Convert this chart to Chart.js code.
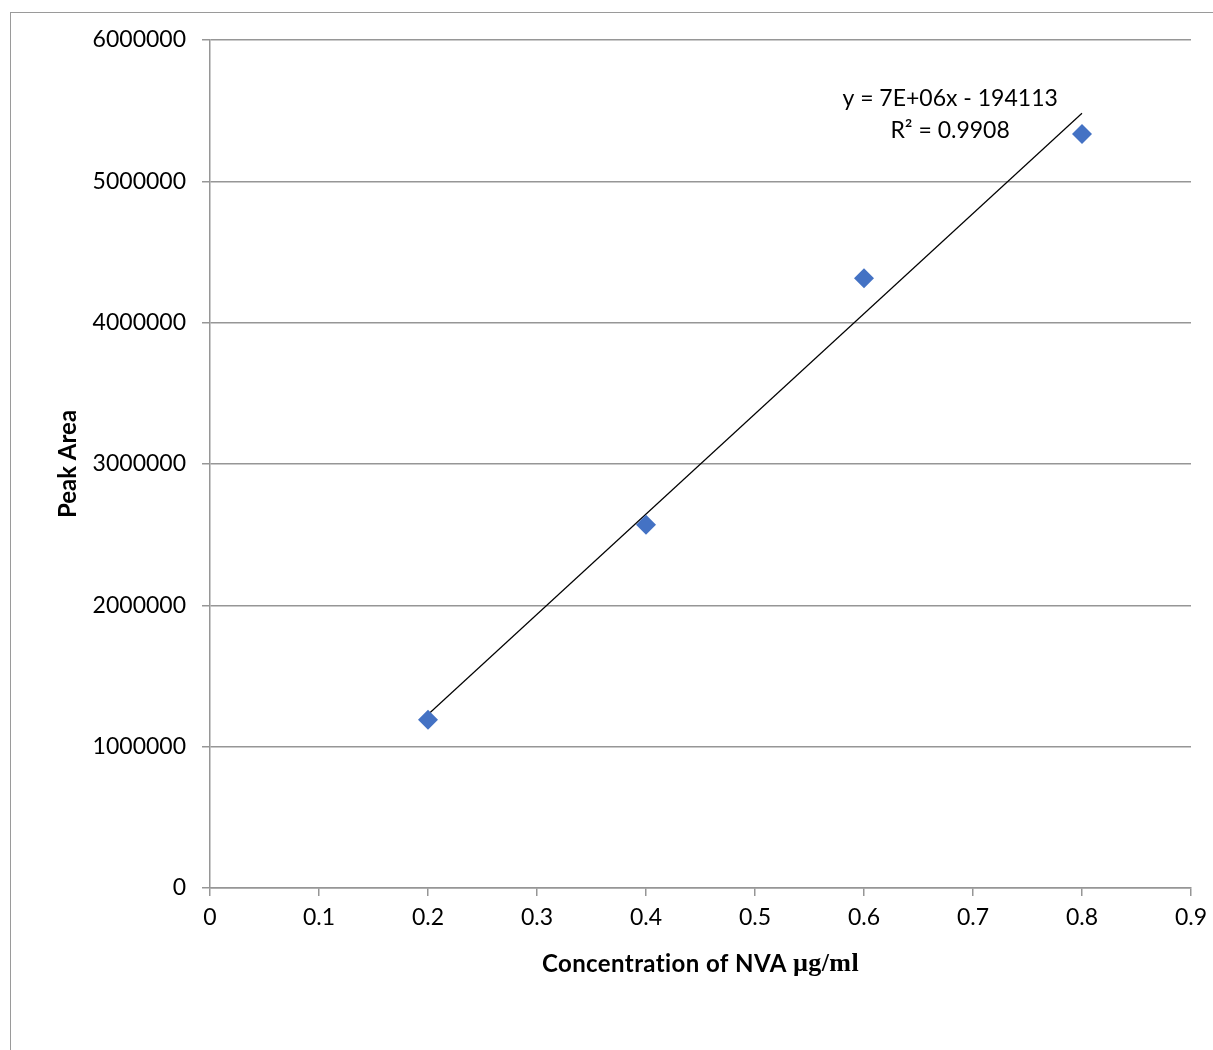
<!DOCTYPE html>
<html>
<head>
<meta charset="utf-8">
<script src="https://cdn.jsdelivr.net/npm/chart.js@4.4.0/dist/chart.umd.min.js"></script>
<style>
  html, body { margin: 0; padding: 0; background: #fff; }
  #wrap { position: relative; width: 1213px; height: 1050px; overflow: hidden; }
  #frame { position: absolute; left: 10px; top: 12px; width: 1400px; height: 1200px; border: 1.5px solid #9a9a9a; }
  #Chart { position: absolute; left: 0; top: 0; }
</style>
</head>
<body>
<div id="wrap">
  <div id="frame"></div>
  <canvas id="Chart" width="1213" height="1050"></canvas>
</div>
<script>
// 浓度 (µg/ml) 和峰面积
const concentrations = [0.2, 0.4, 0.6, 0.8];
const peakAreas = [1190000, 2570000, 4315000, 5335000];

// 趋势线两个端点
const trendX = [0.2, 0.8];
const trendY = [1228000, 5482000];

// 文字
const yTitle = 'Peak Area';
const xTitleParts = ['Concentration of NVA ', 'µg/ml'];
const equationLines = ['y = 7E+06x - 194113', 'R² = 0.9908'];

const gridColor = '#969696';
const tickFont = { family: 'Lato', size: 23 };

// x轴标题：前半部分 Lato 粗体，µg/ml 用 Times 粗体
const xTitlePlugin = {
    id: 'xTitle',
    afterDraw(chart) {
        const c = chart.ctx;
        const area = chart.chartArea;
        c.save();
        c.fillStyle = '#000';
        c.textBaseline = 'middle';
        c.letterSpacing = '0.4px'; // 去掉 ti 连字
        const f1 = 'bold 24px Lato';
        const f2 = 'bold 26px "Liberation Serif"';
        c.font = f1;
        const w1 = c.measureText(xTitleParts[0]).width;
        c.font = f2;
        const w2 = c.measureText(xTitleParts[1]).width;
        let x = (area.left + area.right) / 2 - (w1 + w2) / 2;
        const y = area.bottom + 76;
        c.font = f1;
        c.textAlign = 'left';
        c.fillText(xTitleParts[0], x, y);
        c.font = f2;
        c.fillText(xTitleParts[1], x + w1, y);
        c.restore();
    }
};

// 趋势线公式
const equationPlugin = {
    id: 'equation',
    afterDraw(chart) {
        const c = chart.ctx;
        const xs = chart.scales.x, ys = chart.scales.y;
        const cx = xs.getPixelForValue(0.679);
        const cy = ys.getPixelForValue(5582000);
        c.save();
        c.fillStyle = '#000';
        c.font = '23px Lato';
        c.textAlign = 'center';
        c.textBaseline = 'middle';
        equationLines.forEach((t, i) => c.fillText(t, cx, cy + i * 32));
        c.restore();
    }
};

const ctx = document.getElementById('Chart');
const chart = new Chart(ctx, {
    type: 'scatter',
    data: {
        datasets: [{
                label: 'Peak Area',
                data: concentrations.map((x, i) => ({ x: x, y: peakAreas[i] })),
                pointStyle: 'rectRot',
                pointRadius: 10,
                pointBackgroundColor: '#4472C4',
                pointBorderColor: '#4472C4',
                pointBorderWidth: 0,
                showLine: false,
                order: 1,
            },
            {
                label: 'Linear',
                data: trendX.map((x, i) => ({ x: x, y: trendY[i] })),
                showLine: true,
                borderColor: '#000',
                borderWidth: 1.2,
                pointRadius: 0,
                fill: false,
                order: 2,
            }
        ]
    },
    options: {
        responsive: false,
        animation: false,
        layout: { padding: { left: 0, top: 40, right: 22, bottom: 0 } },
        plugins: {
            legend: { display: false },
            tooltip: { enabled: false },
        },
        scales: {
            x: {
                type: 'linear',
                min: 0,
                max: 0.9,
                ticks: {
                    stepSize: 0.1,
                    color: '#000',
                    font: tickFont,
                    padding: 8,
                    maxRotation: 0,
                    callback: (v) => String(+v.toFixed(1)),
                },
                grid: { drawOnChartArea: false, drawTicks: true, tickLength: 8, color: gridColor, lineWidth: 1.5 },
                border: { display: true, color: gridColor, width: 1.5 },
                afterFit: (scale) => {
                    scale.height = 162;
                    scale.paddingRight = 0;
                },
            },
            y: {
                min: 0,
                max: 6000000,
                ticks: {
                    stepSize: 1000000,
                    color: '#000',
                    font: tickFont,
                    padding: 16,
                    callback: (v) => String(v),
                },
                grid: { color: gridColor, lineWidth: 1.5, tickLength: 8 },
                border: { display: true, color: gridColor, width: 1.5 },
                title: {
                    display: true,
                    text: yTitle,
                    color: '#000',
                    font: { family: 'Lato', size: 24, weight: 'bold' },
                    padding: { top: 54, bottom: 0 },
                },
                afterFit: (scale) => { scale.width = 210; },
            }
        }
    },
    plugins: [xTitlePlugin, equationPlugin]
});
</script>
</body>
</html>
